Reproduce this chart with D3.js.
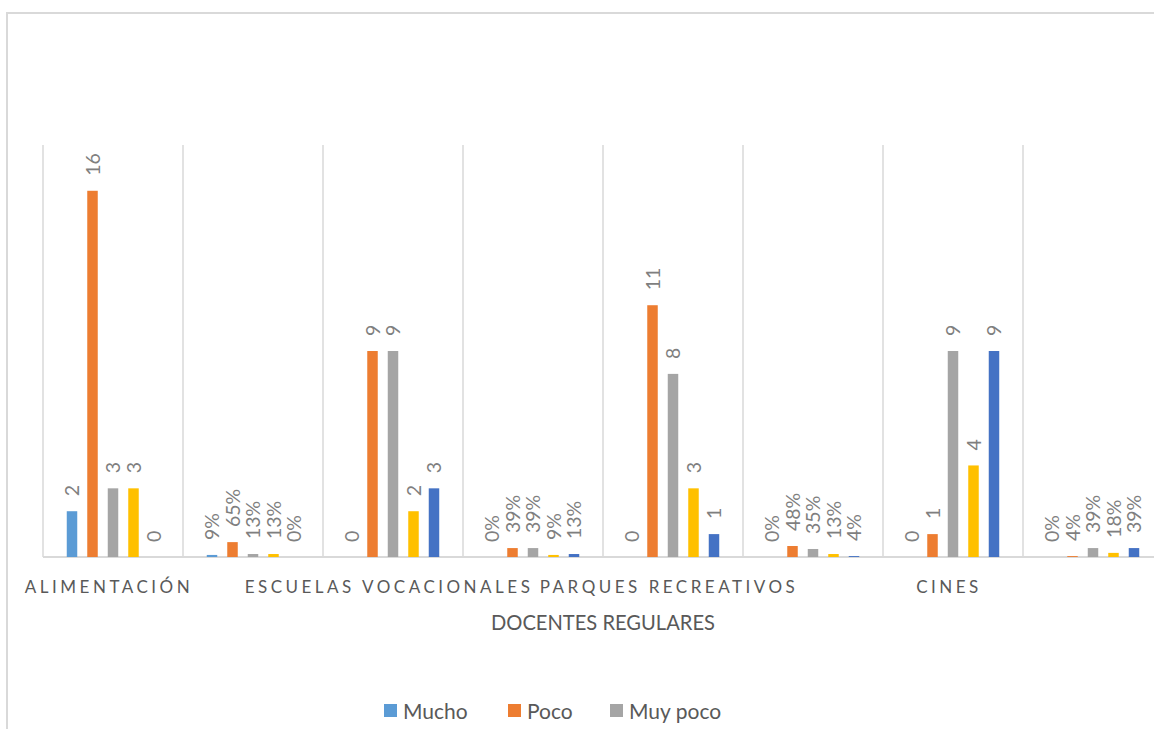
<!DOCTYPE html>
<html>
<head>
<meta charset="utf-8">
<script src="https://cdn.jsdelivr.net/npm/d3@7"></script>
<style>
  html, body { margin: 0; padding: 0; background: #fff; }
  svg { display: block; }
  text { font-family: Lato, "Open Sans", sans-serif; }
</style>
</head>
<body>
<svg id="chart" width="1154" height="729"></svg>
<script>
// ---- data ----
const categories = ["ALIMENTACIÓN", "", "ESCUELAS VOCACIONALES", "", "PARQUES RECREATIVOS", "", "CINES", ""];
const labelKinds = ["n", "%", "n", "%", "n", "%", "n", "%"];
const seriesNames = ["Mucho", "Poco", "Muy poco", "Serie 4", "Serie 5"];
const mucho   = [2, 0.09, 0, 0.00, 0, 0.00, 0, 0.00];
const poco    = [16, 0.65, 9, 0.39, 11, 0.48, 1, 0.04];
const muyPoco = [3, 0.13, 9, 0.39, 8, 0.35, 9, 0.39];
const serie4  = [3, 0.13, 2, 0.09, 3, 0.13, 4, 0.18];
const serie5  = [0, 0.00, 3, 0.13, 1, 0.04, 9, 0.39];
const legendNames = ["Mucho", "Poco", "Muy poco"];
const axisTitle = "DOCENTES REGULARES";
const yMax = 18;

const seriesValues = [mucho, poco, muyPoco, serie4, serie5];
const colors = ["#5B9BD5", "#ED7D31", "#A5A5A5", "#FFC000", "#4472C4"];

// ---- layout ----
const svg = d3.select("#chart");
const plotLeft = 43, catWidth = 140;
const plotTop = 145, plotBottom = 557;

const x = d3.scaleBand()
  .domain(d3.range(categories.length))
  .range([plotLeft, plotLeft + catWidth * categories.length])
  .paddingInner(0).paddingOuter(0);

const xs = d3.scaleBand()
  .domain(d3.range(seriesNames.length))
  .range([0, x.bandwidth()])
  .paddingInner(0.488)
  .paddingOuter(1.159);

const y = d3.scaleLinear().domain([0, yMax]).range([plotBottom, plotTop]);

// chart frame
svg.append("path")
  .attr("d", `M7,740 L7,13 L1160,13`)
  .attr("fill", "none").attr("stroke", "#D9D9D9").attr("stroke-width", 2);

// vertical gridlines at category boundaries
svg.append("g").selectAll("line")
  .data(d3.range(categories.length + 1))
  .join("line")
  .attr("x1", i => plotLeft + i * x.step()).attr("x2", i => plotLeft + i * x.step())
  .attr("y1", plotTop).attr("y2", plotBottom)
  .attr("stroke", "#D9D9D9").attr("stroke-width", 1.5);

// category axis
const xAxis = d3.axisBottom(x).tickSize(0).tickFormat(i => categories[i]);
const gx = svg.append("g").attr("transform", `translate(0,${plotBottom})`).call(xAxis);
gx.select(".domain").attr("stroke", "#D9D9D9").attr("stroke-width", 2)
  .attr("d", `M${plotLeft},0H1170`);
gx.selectAll(".tick text")
  .attr("y", 36).attr("dy", 0)
  .attr("fill", "#595959")
  .style("font-size", "17px")
  .style("letter-spacing", "3.5px")
  .attr("dx", "-4px");

// bars
const fmtN = d3.format("d"), fmtP = d3.format(".0%");
const barData = [];
categories.forEach((c, ci) => {
  seriesValues.forEach((arr, si) => {
    barData.push({ ci, si, v: arr[ci] });
  });
});

const g = svg.append("g");
g.selectAll("rect")
  .data(barData.filter(d => d.v > 0))
  .join("rect")
  .attr("x", d => x(d.ci) + xs(d.si))
  .attr("width", xs.bandwidth())
  .attr("y", d => y(d.v))
  .attr("height", d => y(0) - y(d.v))
  .attr("fill", d => colors[d.si]);

// data labels (rotated)
g.selectAll("text.lbl")
  .data(barData)
  .join("text")
  .attr("class", "lbl")
  .attr("transform", d => `translate(${x(d.ci) + xs(d.si) + xs.bandwidth() / 2},${y(d.v) - 15}) rotate(-90)`)
  .attr("dy", "0.36em")
  .attr("fill", "#7F7F7F")
  .style("font-size", "19.5px")
  .text(d => labelKinds[d.ci] === "%" ? fmtP(d.v) : fmtN(d.v));

// axis title
svg.append("text")
  .attr("x", 603).attr("y", 630)
  .attr("text-anchor", "middle")
  .attr("fill", "#595959")
  .style("font-size", "22px")
  .attr("textLength", 224).attr("lengthAdjust", "spacingAndGlyphs")
  .text(axisTitle);

// legend
const legendX = [384, 508, 610];
const lg = svg.append("g");
legendNames.forEach((name, i) => {
  const item = lg.append("g").attr("transform", `translate(${legendX[i]},704)`);
  item.append("rect").attr("width", 13).attr("height", 13).attr("fill", colors[i]);
  item.append("text").attr("x", 19).attr("y", 14.5)
    .attr("fill", "#595959").style("font-size", "21px").text(name);
});
</script>
</body>
</html>
